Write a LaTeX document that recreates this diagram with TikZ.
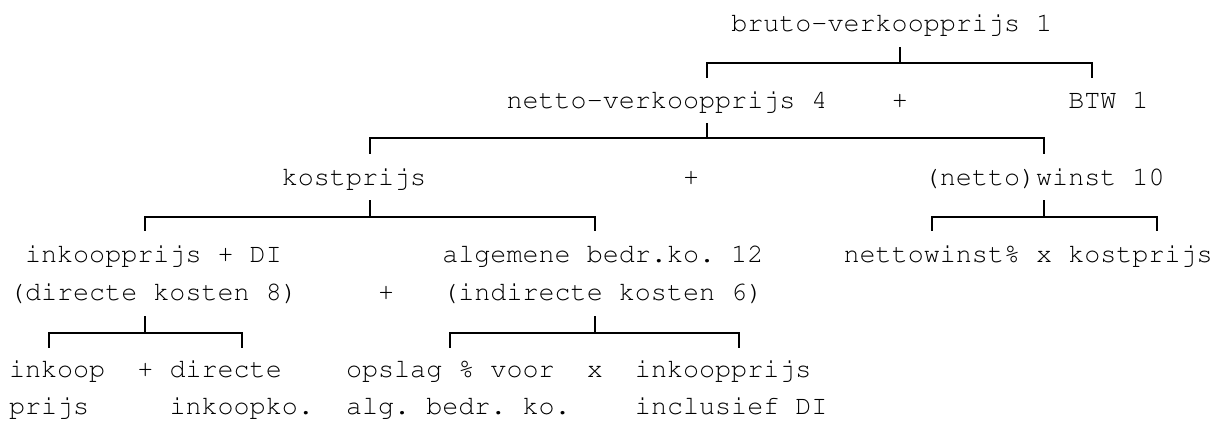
\documentclass[tikz,border=0pt]{standalone}
\usepackage[T1]{fontenc}
\usepackage{courier}
\tikzset{
  txt/.style={font=\fontfamily{pcr}\fontseries{m}\fontsize{20.06pt}{24pt}\selectfont\frenchspacing, anchor=base west, inner sep=0pt, outer sep=0pt},
  br/.style={line width=1.5pt, line cap=rect, black}
}
\begin{document}
\frenchspacing
\begin{tikzpicture}[x=0.75pt,y=-0.75pt]
\useasboundingbox (0,0) rectangle (1218,421);
% ---------- texts ----------
\node[txt] (A)  at (731.25,31.7) {bruto-verkoopprijs 1};
\node[txt] (B1) at (506.55,108) {netto-verkoopprijs 4};
\node[txt] (B2) at (891.75,108) {+};
\node[txt] (B3) at (1068.3,108) {BTW 1};
\node[txt] (C1) at (281.85,185) {kostprijs};
\node[txt] (C2) at (683.1,185) {+};
\node[txt] (C3) at (923.85,185) {(netto)winst 10};
\node[txt] (D1) at (25.05,262) {inkoopprijs + DI};
\node[txt] (D2) at (442.35,262) {algemene bedr.ko. 12};
\node[txt] (D3) at (843.6,262) {nettowinst\% x kostprijs};
\node[txt] (E1) at (9,300) {(directe kosten 8)};
\node[txt] (E2) at (378.15,300) {+};
\node[txt] (E3) at (442.35,300) {(indirecte kosten 6)};
\node[txt] (F1) at (9,377.3) {inkoop};
\node[txt] (F2) at (137.4,377.3) {+};
\node[txt] (F3) at (169.5,377.3) {directe};
\node[txt] (F4) at (346.05,377.3) {opslag \% voor};
\node[txt] (F5) at (586.8,377.3) {x};
\node[txt] (F6) at (634.95,377.3) {inkoopprijs};
\node[txt] (G1) at (9,414) {prijs};
\node[txt] (G2) at (169.5,414) {inkoopko.};
\node[txt] (G3) at (346.05,414) {alg. bedr. ko.};
\node[txt] (G4) at (634.95,414) {inclusief DI};
% ---------- bracket 1 ----------
\coordinate (a1t) at (899.8,48);
\coordinate (a1m) at (899.8,63);
\coordinate (a1l) at (707.2,63);
\coordinate (a1r) at (1092.4,63);
\coordinate (a1lb) at (707.2,77);
\coordinate (a1rb) at (1092.4,77);
\draw[br] (a1t) -- (a1m);
\draw[br] (a1lb) -- (a1l) -- (a1r) -- (a1rb);
% ---------- bracket 2 ----------
\coordinate (a2t) at (707.2,124);
\coordinate (a2m) at (707.2,138.3);
\coordinate (a2l) at (370.1,138.3);
\coordinate (a2r) at (1044.2,138.3);
\coordinate (a2lb) at (370.1,153);
\coordinate (a2rb) at (1044.2,153);
\draw[br] (a2t) -- (a2m);
\draw[br] (a2lb) -- (a2l) -- (a2r) -- (a2rb);
% ---------- bracket 3 left ----------
\coordinate (a3t) at (370.1,201);
\coordinate (a3m) at (370.1,217);
\coordinate (a3l) at (145.4,217);
\coordinate (a3r) at (594.8,217);
\coordinate (a3lb) at (145.4,230);
\coordinate (a3rb) at (594.8,230);
\draw[br] (a3t) -- (a3m);
\draw[br] (a3lb) -- (a3l) -- (a3r) -- (a3rb);
% ---------- bracket 3 right ----------
\coordinate (a4t) at (1044.2,201);
\coordinate (a4m) at (1044.2,217);
\coordinate (a4l) at (931.9,217);
\coordinate (a4r) at (1156.6,217);
\coordinate (a4lb) at (931.9,230);
\coordinate (a4rb) at (1156.6,230);
\draw[br] (a4t) -- (a4m);
\draw[br] (a4lb) -- (a4l) -- (a4r) -- (a4rb);
% ---------- bracket 4 left ----------
\coordinate (a5t) at (145.4,317);
\coordinate (a5m) at (145.4,333);
\coordinate (a5l) at (49.1,333);
\coordinate (a5r) at (241.7,333);
\coordinate (a5lb) at (49.1,346.7);
\coordinate (a5rb) at (241.7,346.7);
\draw[br] (a5t) -- (a5m);
\draw[br] (a5lb) -- (a5l) -- (a5r) -- (a5rb);
% ---------- bracket 4 right ----------
\coordinate (a6t) at (594.8,317);
\coordinate (a6m) at (594.8,333);
\coordinate (a6l) at (450.4,333);
\coordinate (a6r) at (739.3,333);
\coordinate (a6lb) at (450.4,346.7);
\coordinate (a6rb) at (739.3,346.7);
\draw[br] (a6t) -- (a6m);
\draw[br] (a6lb) -- (a6l) -- (a6r) -- (a6rb);
\end{tikzpicture}
\end{document}
